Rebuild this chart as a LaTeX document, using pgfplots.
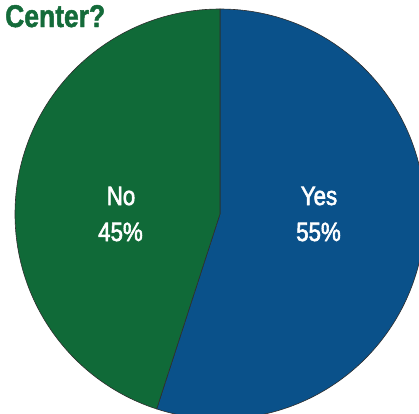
\documentclass[border=0pt]{standalone}
\usepackage{fontspec}
\usepackage{pgfplots}
\pgfplotsset{compat=1.18}
\newfontfamily\titlefont{Liberation Sans}[FakeStretch=0.84, FakeBold=1.5]
\newfontfamily\labelfont{Liberation Sans}[FakeStretch=0.84, FakeBold=2.2]
\definecolor{nogreen}{HTML}{106A38}
\definecolor{yesblue}{HTML}{0A518A}
\definecolor{titlegreen}{HTML}{146B3A}
\definecolor{edge}{HTML}{2E2E2E}
% shares in percent
\def\yesval{55}
\def\noval{45}
\begin{document}
\begin{tikzpicture}
\begin{axis}[
    name=pie,
    x=1bp, y=1bp,
    xmin=0, xmax=419,
    ymin=0, ymax=414,
    hide axis,
    clip=true,
]
% pie centre (220,200), radius 205 (axis units = bp)
\pgfmathsetmacro{\noend}{90+3.6*\noval}
\fill[yesblue, draw=edge, line width=0.6bp] (axis cs:220,200) -- ++(90:205bp)
    arc[start angle=90, end angle=\noend-360, radius=205bp] -- cycle;
\fill[nogreen, draw=edge, line width=0.6bp] (axis cs:220,200) -- ++(90:205bp)
    arc[start angle=90, end angle=\noend, radius=205bp] -- cycle;
\node[anchor=base west, text=titlegreen, inner sep=0pt,
      font=\titlefont\bfseries\fontsize{31.5bp}{31.5bp}\selectfont]
    at (axis cs:5,387) {Center?};
\node[anchor=base, text=white, inner sep=0pt,
      font=\labelfont\fontsize{26.5bp}{26.5bp}\selectfont]
    at (axis cs:121,209) {No};
\node[anchor=base, text=white, inner sep=0pt,
      font=\labelfont\fontsize{26.5bp}{26.5bp}\selectfont]
    at (axis cs:120.5,173) {\noval\%};
\node[anchor=base, text=white, inner sep=0pt,
      font=\labelfont\fontsize{26.5bp}{26.5bp}\selectfont]
    at (axis cs:319,209) {Yes};
\node[anchor=base, text=white, inner sep=0pt,
      font=\labelfont\fontsize{26.5bp}{26.5bp}\selectfont]
    at (axis cs:318.5,173) {\yesval\%};
\end{axis}
\pgfresetboundingbox
\path[use as bounding box] (pie.south west) rectangle (pie.north east);
\end{tikzpicture}
\end{document}
